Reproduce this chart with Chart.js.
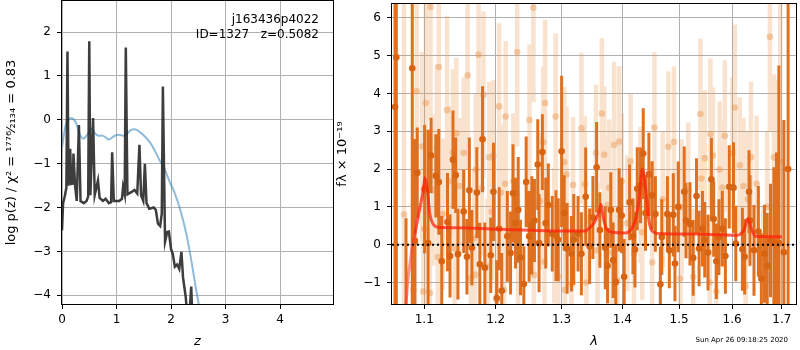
<!DOCTYPE html>
<html><head><meta charset="utf-8">
<script src="https://cdn.jsdelivr.net/npm/chart.js@4.4.1/dist/chart.umd.min.js"></script>
<style>
html,body{margin:0;padding:0;background:#fff;}
#wrap{position:relative;width:800px;height:350px;overflow:hidden;}
#c1{position:absolute;left:0;top:0;}
#c2{position:absolute;left:334px;top:0;}
</style></head><body>
<div id="wrap"><canvas id="c1" width="334" height="350"></canvas><canvas id="c2" width="466" height="350"></canvas></div>
<script>
// ---------- Left panel: log p(z) ----------
const zTicks = [0, 1, 2, 3, 4];
const lnpTicks = [-4, -3, -2, -1, 0, 1, 2];
const priorZ = [0, 0.06, 0.1, 0.17, 0.25, 0.32, 0.39, 0.47, 0.54, 0.6, 0.66, 0.74, 0.8, 0.86, 0.97, 1.05, 1.15, 1.27, 1.35, 1.43, 1.52, 1.61, 1.7, 1.79, 1.88, 1.97, 2.07, 2.18, 2.28, 2.37, 2.45, 2.52, 2.58];
const priorLnp = [-0.62, -0.17, -0.03, 0.04, -0.05, -0.32, -0.43, -0.33, -0.2, -0.3, -0.36, -0.36, -0.4, -0.45, -0.36, -0.34, -0.36, -0.23, -0.22, -0.28, -0.38, -0.51, -0.7, -0.92, -1.12, -1.4, -1.68, -2.1, -2.6, -3.2, -3.8, -4.3, -4.8];
const pzZ = [0, 0.02, 0.05, 0.08, 0.1, 0.12, 0.15, 0.17, 0.2, 0.21, 0.24, 0.27, 0.31, 0.34, 0.4, 0.45, 0.48, 0.5, 0.52, 0.57, 0.6, 0.66, 0.69, 0.75, 0.8, 0.86, 0.9, 0.92, 0.95, 1.05, 1.1, 1.12, 1.15, 1.17, 1.2, 1.27, 1.33, 1.38, 1.42, 1.45, 1.49, 1.52, 1.55, 1.6, 1.68, 1.72, 1.76, 1.8, 1.83, 1.85, 1.89, 1.93, 1.96, 2.0, 2.03, 2.07, 2.11, 2.15, 2.19, 2.22, 2.27, 2.3, 2.34, 2.37, 2.39, 2.42];
const pzLnp = [-2.52, -1.9, -1.75, -1.55, 1.56, -1.5, -0.66, -1.46, -1.45, -0.77, -1.5, -1.85, -0.12, -1.85, -1.9, -1.85, -1.75, 1.79, -1.72, 0.04, -1.72, -1.38, -1.78, -1.85, -1.8, -1.9, -1.88, -0.74, -1.85, -1.85, -1.8, -1.53, -1.7, 1.65, -1.7, -1.65, -1.6, -1.68, -0.57, -1.72, -1.85, -1.0, -1.9, -2.03, -2.0, -2.05, -2.37, -2.42, -2.14, 0.76, -2.78, -2.56, -2.55, -2.95, -3.05, -3.35, -3.3, -3.4, -3.01, -3.6, -4.05, -4.5, -4.4, -3.8, -4.5, -5.0];
const labelLines = ['j163436p4022', 'ID=1327   z=0.5082'];

// ---------- Right panel: spectrum ----------
const waveTicks = [1.1, 1.2, 1.3, 1.4, 1.5, 1.6, 1.7];
const fluxTicks = [-1, 0, 1, 2, 3, 4, 5, 6];
const darkWave = [1.0616,1.0633,1.0759,1.0841,1.0877,1.0907,1.1005,1.1052,1.1092,1.1157,1.1197,1.1237,1.1316,1.1351,1.1392,1.1430,1.1461,1.1541,1.1587,1.1621,1.1657,1.1728,1.1770,1.1809,1.1842,1.1928,1.1967,1.2015,1.2050,1.2088,1.2171,1.2219,1.2255,1.2293,1.2333,1.2367,1.2418,1.2453,1.2498,1.2539,1.2579,1.2630,1.2650,1.2701,1.2753,1.2793,1.2855,1.2913,1.2948,1.3002,1.3043,1.3090,1.3160,1.3196,1.3265,1.3319,1.3389,1.3453,1.3507,1.3568,1.3622,1.3711,1.3750,1.3804,1.3844,1.3888,1.3945,1.3989,1.4030,1.4124,1.4182,1.4216,1.4256,1.4313,1.4360,1.4400,1.4459,1.4517,1.4574,1.4662,1.4688,1.4788,1.4823,1.4895,1.4925,1.4985,1.5095,1.5126,1.5200,1.5260,1.5322,1.5370,1.5433,1.5476,1.5538,1.5602,1.5645,1.5696,1.5746,1.5810,1.5870,1.5944,1.6027,1.6072,1.6202,1.6247,1.6333,1.6353,1.6432,1.6520,1.6580,1.6644,1.6699,1.6766,1.6835,1.6888,1.6937,1.7040,1.7129];
const darkFlux = [3.65,4.96,-1.7,4.67,0.10,1.90,1.47,0.04,2.36,1.82,1.66,-0.44,0.60,-0.30,2.25,1.84,-0.25,0.88,-0.32,1.44,-0.08,1.38,-0.52,2.79,-0.61,-0.28,1.40,-1.41,0.42,-1.22,0.22,-0.22,1.36,0.57,0.92,-0.34,-1.04,1.66,0.22,0.51,0.64,2.12,0.04,2.45,0.57,1.05,0.29,0.24,0.13,2.47,0.84,-0.10,-0.24,0.14,0.29,-0.24,1.27,-0.04,0.72,2.05,0.39,-0.08,-0.56,0.92,-0.41,-0.99,0.92,0.77,-0.85,1.12,0.22,-0.13,1.48,1.57,2.41,0.84,1.86,1.31,0.81,-1.05,0.20,0.81,-0.15,0.79,-0.50,1.00,1.40,0.64,0.55,-0.35,1.29,-0.10,0.42,0.13,-0.21,1.73,0.68,-0.44,0.20,0.42,-0.30,1.53,1.51,0.03,-0.12,-0.32,1.40,0.64,-0.15,0.35,-0.90,-0.24,-0.56,0.11,0.05,0.04,0.04,-0.20,2.00];
const darkErr = [10,10,2.4,8,2.7,1.2,1.7,3.0,1.0,1.1,1.4,1.2,1.3,1.1,1.3,1.0,1.2,1.1,1.0,1.4,1.0,1.2,1.1,1.4,1.2,1.0,1.3,1.0,1.1,1.0,1.2,1.1,1.3,1.2,1.4,1.0,1.0,1.2,1.2,1.3,1.1,1.2,1.3,1.0,1.2,1.1,1.0,1.2,1.1,2.0,1.0,1.2,1.0,1.2,1.0,1.1,1.3,1.0,1.1,1.2,1.0,1.1,1.0,1.0,1.0,1.0,1.1,1.0,1.0,1.0,1.0,1.0,1.1,1.0,1.2,1.0,1.1,0.9,1.0,1.0,1.0,1.0,1.0,1.1,1.0,1.2,1.2,1.0,1.1,1.0,1.0,1.0,1.0,1.0,1.0,1.1,1.0,1.0,1.0,1.0,1.0,1.1,1.2,1.0,1.1,1.0,1.1,1.2,1.2,1.2,1.2,1.3,1.4,1.5,2.0,2.4,4.7,3.5,10];
const lightWave = [1.0733,1.0854,1.0899,1.0970,1.0987,1.1000,1.1022,1.1076,1.1085,1.1118,1.1170,1.1184,1.1197,1.1251,1.1310,1.1347,1.1392,1.1416,1.1439,1.1481,1.1541,1.1597,1.1643,1.1691,1.1702,1.1714,1.1752,1.1799,1.1823,1.1881,1.1905,1.1942,1.1967,1.2015,1.2050,1.2073,1.2122,1.2137,1.2146,1.2259,1.2318,1.2330,1.2503,1.2563,1.2571,1.2665,1.2716,1.2734,1.2742,1.2886,1.2908,1.2948,1.3043,1.3054,1.3080,1.3160,1.3185,1.3319,1.3373,1.3400,1.3557,1.3584,1.3655,1.3695,1.3750,1.3778,1.3832,1.3860,1.3916,1.3945,1.3989,1.4085,1.4141,1.4199,1.4313,1.4343,1.4517,1.4557,1.4705,1.4805,1.4907,1.5025,1.5046,1.5168,1.5260,1.5395,1.5414,1.5476,1.5570,1.5583,1.5632,1.5696,1.5759,1.5810,1.5859,1.6008,1.6052,1.6150,1.6222,1.6266,1.6313,1.6372,1.6484,1.6619,1.6699,1.6754,1.6835,1.6888,1.6964];
const lightFlux = [0.8,-1.2,4.06,2.6,-1.24,0.42,3.75,-1.28,6.29,1.45,2.57,-0.33,4.70,0.81,3.56,1.68,2.44,-0.10,2.95,1.55,2.43,4.48,-0.89,0.18,-0.80,1.99,5.03,1.49,3.97,-0.58,2.31,0.87,2.36,-1.46,3.66,1.38,-1.20,1.61,3.39,1.68,5.10,-0.37,3.30,6.27,-0.80,1.15,2.71,-0.45,3.75,0.24,3.39,-0.85,2.18,-1.20,1.86,-1.05,1.58,3.08,1.60,-1.00,2.43,-0.15,3.47,2.38,1.05,1.51,-0.21,2.64,-0.95,2.73,1.68,0.57,2.21,-0.24,1.32,0.33,-0.47,3.10,1.20,2.59,2.72,-0.90,0.99,1.44,-0.85,3.46,1.75,2.29,-1.00,2.93,2.36,-1.24,1.99,1.51,2.88,2.43,3.63,2.10,1.55,-1.10,1.20,2.31,1.61,-0.80,1.00,5.50,2.31,1.88,2.20];
const lightErr = [6,2.5,2.5,2.5,2.0,2.0,3.0,2.0,3.0,2.0,2.2,2.0,3.0,2.0,2.5,2.0,2.2,2.0,2.0,1.8,2.0,2.5,1.8,1.8,1.8,2.0,2.5,1.8,2.2,1.8,2.0,1.8,2.0,1.8,2.2,1.8,1.8,1.8,2.0,1.8,2.5,1.8,2.0,2.5,1.8,1.8,2.0,1.8,2.2,1.8,2.2,1.8,2.0,1.8,1.8,1.8,1.8,2.0,1.8,1.8,1.8,1.8,2.0,1.8,1.8,1.8,1.8,2.2,1.8,2.0,1.8,1.8,1.8,1.8,1.8,1.8,1.8,2.0,1.8,2.0,2.0,1.8,1.8,1.8,1.8,2.0,1.8,1.8,1.8,2.0,1.8,1.8,1.8,1.8,2.0,2.0,2.2,1.8,1.8,1.8,1.8,2.0,1.8,1.8,2.0,2.5,2.2,2.5,4.5];
const modelWave = [1.0745,1.0759,1.0785,1.0811,1.0845,1.0877,1.0943,1.0985,1.1009,1.1040,1.1076,1.1118,1.1183,1.1430,1.2000,1.2500,1.3000,1.3380,1.3453,1.3535,1.3612,1.3639,1.3667,1.3721,1.3832,1.4056,1.4174,1.4240,1.4285,1.4342,1.4400,1.4459,1.4546,1.4700,1.5300,1.5800,1.6100,1.6230,1.6311,1.6390,1.6462,1.6700,1.7000];
const modelFlux = [-2.0,-1.57,-0.9,-0.5,0.0,0.29,0.99,1.4,1.77,1.5,0.81,0.55,0.46,0.45,0.41,0.38,0.36,0.36,0.45,0.6,0.9,1.07,0.81,0.46,0.33,0.31,0.46,0.75,1.16,2.0,1.5,0.64,0.33,0.29,0.28,0.26,0.25,0.38,0.69,0.38,0.22,0.21,0.21];
const waveRange = [1.0577, 1.7294];
const fluxRange = [-1.57, 6.37];
const stampText = 'Sun Apr 26 09:18:25 2020';

// ---------- helpers ----------
const FONT = "'DejaVu Sans', sans-serif";
Chart.defaults.font.family = FONT;
Chart.defaults.color = '#000';
const minus = v => (v < 0 ? '\u2212' + Math.abs(v) : String(v));
const setTicks = list => a => { a.ticks = list.map(v => ({value: v})); };
const fitX = h => a => { a.height = h; a.paddingLeft = 0; a.paddingRight = 0; a.paddingTop = 0; a.paddingBottom = 0; };
const fitY = w => a => { a.width = w; a.paddingTop = 0; a.paddingBottom = 0; a.paddingLeft = 0; a.paddingRight = 0; };
const grid = {color: '#b0b0b0', lineWidth: 1, tickLength: 5, tickColor: '#000', drawTicks: true};
const tickFont = {family: FONT, size: 12};
const pairs = (xs, ys) => xs.map((x, i) => ({x: x, y: ys[i]}));
function errSegs(w, f, e) {
  const out = [];
  for (let i = 0; i < w.length; i++) {
    out.push({x: w[i], y: f[i] - e[i]}, {x: w[i], y: f[i] + e[i]}, {x: w[i], y: null});
  }
  return out;
}
const frame = {
  id: 'frame',
  afterDatasetsDraw(chart) {
    const {ctx, chartArea: a} = chart;
    ctx.save();
    ctx.strokeStyle = '#000';
    ctx.lineWidth = 1;
    ctx.strokeRect(Math.round(a.left) - 0.5, Math.round(a.top) - 0.5, Math.round(a.right - a.left) + 1, Math.round(a.bottom - a.top) + 1);
    ctx.restore();
  }
};

// ---------- left chart ----------
const labelsPlugin = {
  id: 'labels',
  afterDraw(chart) {
    const ctx = chart.ctx;
    ctx.save();
    ctx.font = '12px ' + FONT;
    ctx.fillStyle = '#000';
    ctx.textAlign = 'right';
    ctx.textBaseline = 'middle';
    ctx.fillText(labelLines[0], 319, 20);
    ctx.fillText(labelLines[1], 319, 35);
    ctx.restore();
  }
};
new Chart(document.getElementById('c1'), {
  type: 'line',
  data: {datasets: [
    {data: pairs(pzZ, pzLnp), borderColor: 'rgba(40,40,40,0.9)', borderWidth: 2.5, pointRadius: 0, tension: 0, clip: 0},
    {data: pairs(priorZ, priorLnp), borderColor: 'rgba(31,119,180,0.5)', borderWidth: 2, pointRadius: 0, tension: 0.4, clip: 0}
  ]},
  options: {
    responsive: false, animation: false, events: [],
    layout: {padding: {left: 0, right: 1, top: 1, bottom: 0}},
    plugins: {legend: {display: false}, tooltip: {enabled: false}},
    scales: {
      x: {type: 'linear', min: 0, max: 4.97, afterBuildTicks: setTicks(zTicks), afterFit: fitX(46),
          grid: grid, border: {display: false},
          ticks: {font: tickFont, padding: 4, maxRotation: 0, callback: v => minus(v)},
          title: {display: true, text: 'z', font: {family: FONT, size: 13, style: 'italic', lineHeight: 1.2}, padding: {top: 0, bottom: 1}}},
      y: {type: 'linear', min: -4.2, max: 2.71, afterBuildTicks: setTicks(lnpTicks), afterFit: fitY(62),
          grid: grid, border: {display: false},
          ticks: {font: tickFont, padding: 6, callback: v => minus(v)},
          title: {display: true, text: 'log p(z) / \u03c7\u00b2 = \u00b9\u2077\u2077\u2076\u2044\u2082\u2081\u2083\u2084 = 0.83', font: {family: FONT, size: 13, lineHeight: 1.2}, padding: {top: 4, bottom: 0}}}
    }
  },
  plugins: [frame, labelsPlugin]
});

// ---------- right chart ----------
const DARK = 'rgb(222,112,32)';
const DARKPT = 'rgb(216,100,18)';
const LIGHT = 'rgba(235,150,80,0.28)';
const LIGHTPT = 'rgba(235,150,80,0.45)';
const stampPlugin = {
  id: 'stamp',
  afterDraw(chart) {
    const ctx = chart.ctx;
    ctx.save();
    ctx.font = '7px ' + FONT;
    ctx.fillStyle = '#000';
    ctx.textAlign = 'right';
    ctx.textBaseline = 'middle';
    ctx.fillText(stampText, 454, 340);
    ctx.restore();
  }
};
new Chart(document.getElementById('c2'), {
  type: 'scatter',
  data: {datasets: [
    {type: 'line', data: [{x: waveRange[0], y: 0}, {x: waveRange[1], y: 0}], borderColor: '#000', borderWidth: 2, borderDash: [2, 3], pointRadius: 0, clip: 0},
    {type: 'line', data: pairs(modelWave, modelFlux), borderColor: 'rgba(255,30,10,0.72)', borderWidth: 3, pointRadius: 0, cubicInterpolationMode: 'monotone', clip: 0,
     segment: {borderColor: c => (c.p1.parsed.y < 0.35 && c.p1.parsed.x < 1.09 ? 'rgba(255,60,60,0.55)' : undefined)}},
    {type: 'scatter', data: pairs(darkWave, darkFlux), backgroundColor: DARKPT, borderWidth: 0, pointRadius: 3.3, clip: 0},
    {type: 'line', data: errSegs(darkWave, darkFlux, darkErr), borderColor: DARK, borderWidth: 3, borderCapStyle: 'butt', pointRadius: 0, spanGaps: false, clip: 0},
    {type: 'scatter', data: pairs(lightWave, lightFlux), backgroundColor: LIGHTPT, borderWidth: 0, pointRadius: 3.3, clip: 0},
    {type: 'line', data: errSegs(lightWave, lightFlux, lightErr), borderColor: LIGHT, borderWidth: 4.5, borderCapStyle: 'butt', pointRadius: 0, spanGaps: false, clip: 0}
  ]},
  options: {
    responsive: false, animation: false, events: [],
    layout: {padding: {left: 0, right: 1, top: 1, bottom: 0}},
    plugins: {legend: {display: false}, tooltip: {enabled: false}},
    scales: {
      x: {type: 'logarithmic', min: waveRange[0], max: waveRange[1], afterBuildTicks: setTicks(waveTicks), afterFit: fitX(46),
          grid: grid, border: {display: false},
          ticks: {font: tickFont, padding: 4, maxRotation: 0, autoSkip: false, callback: v => Number(v).toFixed(1)},
          title: {display: true, text: '\u03bb', font: {family: FONT, size: 13, style: 'italic', lineHeight: 1.2}, padding: {top: 0, bottom: 1}}},
      y: {type: 'linear', min: fluxRange[0], max: fluxRange[1], afterBuildTicks: setTicks(fluxTicks), afterFit: fitY(58),
          grid: grid, border: {display: false},
          ticks: {font: tickFont, padding: 6, callback: v => minus(v)},
          title: {display: true, text: 'f\u03bb \u00d7 10\u207b\u00b9\u2079', font: {family: FONT, size: 13, lineHeight: 1.2}, padding: {top: 1, bottom: 0}}}
    }
  },
  plugins: [frame, stampPlugin]
});
</script>
</body></html>
